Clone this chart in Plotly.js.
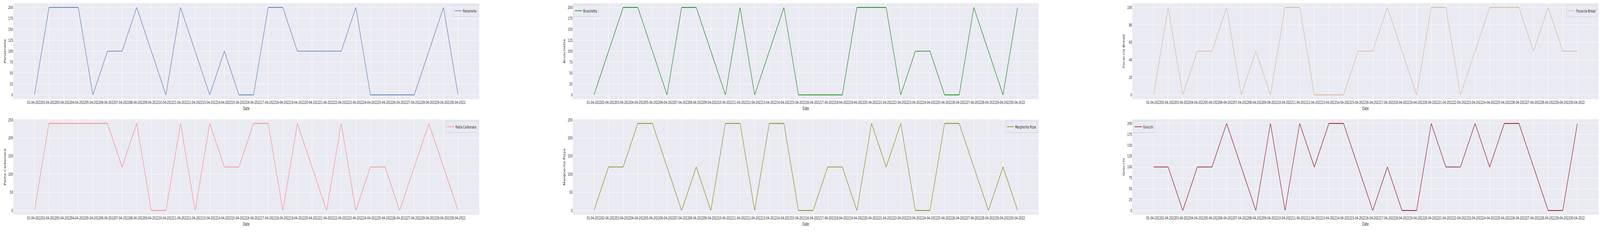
<!DOCTYPE html>
<html>
<head>
<meta charset="utf-8">
<script src="https://cdn.plot.ly/plotly-3.0.1.min.js"></script>
<style>
  html, body { margin: 0; padding: 0; background: #fff; overflow: hidden; }
  #chart { width: 6757px; height: 594px; transform-origin: 0 0; }
</style>
</head>
<body>
<div id="chart"></div>
<script>
// dates on the x axis (one per day of April 2022)
const dates = [
  "01-04-2022", "02-04-2022", "03-04-2022", "04-04-2022", "05-04-2022",
  "06-04-2022", "07-04-2022", "08-04-2022", "09-04-2022", "10-04-2022",
  "11-04-2022", "12-04-2022", "13-04-2022", "14-04-2022", "15-04-2022",
  "16-04-2022", "17-04-2022", "18-04-2022", "19-04-2022", "20-04-2022",
  "21-04-2022", "22-04-2022", "23-04-2022", "24-04-2022", "25-04-2022",
  "26-04-2022", "27-04-2022", "28-04-2022", "29-04-2022", "30-04-2022"
];

const panzenella = [0, 200, 200, 200, 0, 100, 100, 200, 100, 0, 200, 100, 0, 100, 0, 0, 200, 200, 100, 100, 100, 100, 200, 0, 0, 0, 0, 100, 200, 0];
const bruschetta = [0, 100, 200, 200, 100, 0, 200, 200, 100, 0, 200, 0, 100, 200, 0, 0, 0, 0, 200, 200, 200, 0, 100, 100, 0, 0, 200, 100, 0, 200];
const focaccia = [0, 100, 0, 50, 50, 100, 0, 50, 0, 100, 100, 0, 0, 0, 50, 50, 100, 50, 0, 100, 100, 0, 50, 100, 100, 100, 50, 100, 50, 50];
const carbonara = [0, 240, 240, 240, 240, 240, 120, 240, 0, 0, 240, 0, 240, 120, 120, 240, 240, 0, 240, 120, 0, 240, 0, 120, 120, 0, 120, 240, 120, 0];
const margherita = [0, 120, 120, 240, 240, 120, 0, 120, 0, 240, 240, 0, 240, 240, 0, 0, 120, 120, 0, 240, 120, 240, 0, 0, 240, 240, 120, 0, 120, 0];
const gnocchi = [100, 100, 0, 100, 100, 200, 100, 0, 200, 0, 200, 100, 200, 200, 100, 0, 100, 0, 0, 200, 100, 100, 200, 100, 200, 200, 100, 0, 0, 200];

const names = ["Panzenella", "Bruschetta", "Focaccia Bread", "Pasta Carbonara", "Margherita Pizza", "Gnocchi"];
const series = [panzenella, bruschetta, focaccia, carbonara, margherita, gnocchi];
const colors = ["#4c72b0", "green", "tan", "salmon", "olive", "darkred"];
const yTop = [200, 200, 100, 240, 240, 200];
const yStep = [25, 25, 20, 50, 50, 25];

const TXT = "#262626";
const FONT = "DejaVu Sans, sans-serif";

// pixel boxes of the six panels
const W = 6757, H = 594;
const cols = [[56, 2024], [2419, 4387], [4782, 6751]];
const rows = [[8, 254], [305, 550]];
const legendPos = [
  { x: 2019, y: 12, xanchor: "right" },
  { x: 2422, y: 12, xanchor: "left" },
  { x: 6744, y: 12, xanchor: "right" },
  { x: 2018, y: 309, xanchor: "right" },
  { x: 4382, y: 309, xanchor: "right" },
  { x: 4786, y: 309, xanchor: "left" }
];

// the window can be narrower than the chart: squeeze it to fit
const box = document.getElementById("chart");
const sx = Math.min(1, window.innerWidth / W);
const sy = Math.min(1, window.innerHeight / H);
box.style.transform = "scale(" + sx + "," + sy + ")";

const data = [];
const layout = {
  width: W, height: H,
  margin: { l: 0, r: 0, t: 0, b: 0 },
  paper_bgcolor: "#ffffff",
  plot_bgcolor: "#eaeaf2",
  font: { family: FONT, color: TXT, size: 11 },
  showlegend: true
};

series.forEach(function (vals, i) {
  const n = i + 1;
  const sfx = n === 1 ? "" : String(n);
  const legKey = n === 1 ? "legend" : "legend" + n;
  data.push({
    x: dates, y: vals, name: names[i],
    type: "scatter", mode: "lines",
    line: { color: colors[i], width: 1.7 },
    xaxis: "x" + sfx, yaxis: "y" + sfx,
    legend: legKey
  });

  const c = cols[i % 3], r = rows[Math.floor(i / 3)];
  layout["xaxis" + sfx] = {
    domain: [c[0] / W, c[1] / W],
    anchor: "y" + sfx,
    type: "category",
    range: [-1.45, dates.length - 1 + 1.45],
    tickmode: "array", tickvals: dates, ticktext: dates,
    tickangle: 0,
    tickfont: { size: 10.7, color: TXT, family: FONT },
    showgrid: true, gridcolor: "#ffffff", gridwidth: 1,
    zeroline: false, showline: false, ticks: "",
    title: { text: "Date", font: { size: 11.4, color: TXT, family: FONT }, standoff: 6 },
    automargin: false
  };
  const pad = yTop[i] * 0.05;
  layout["yaxis" + sfx] = {
    domain: [1 - r[1] / H, 1 - r[0] / H],
    anchor: "x" + sfx,
    range: [-pad, yTop[i] + pad],
    tick0: 0, dtick: yStep[i],
    tickfont: { size: 10.7, color: TXT, family: FONT },
    showgrid: true, gridcolor: "#ffffff", gridwidth: 1,
    zeroline: false, showline: false, ticks: "",
    title: { text: names[i], font: { size: 11.4, color: TXT, family: FONT }, standoff: 7 },
    automargin: false
  };

  const lp = legendPos[i];
  layout[legKey] = {
    x: lp.x / W, y: 1 - lp.y / H,
    xanchor: lp.xanchor, yanchor: "top",
    bgcolor: "rgba(234,234,242,0.8)",
    bordercolor: "#cccccc", borderwidth: 1,
    font: { size: 10.7, color: TXT, family: FONT }
  };
});

Plotly.newPlot("chart", data, layout, { displayModeBar: false, staticPlot: true });
</script>
</body>
</html>
